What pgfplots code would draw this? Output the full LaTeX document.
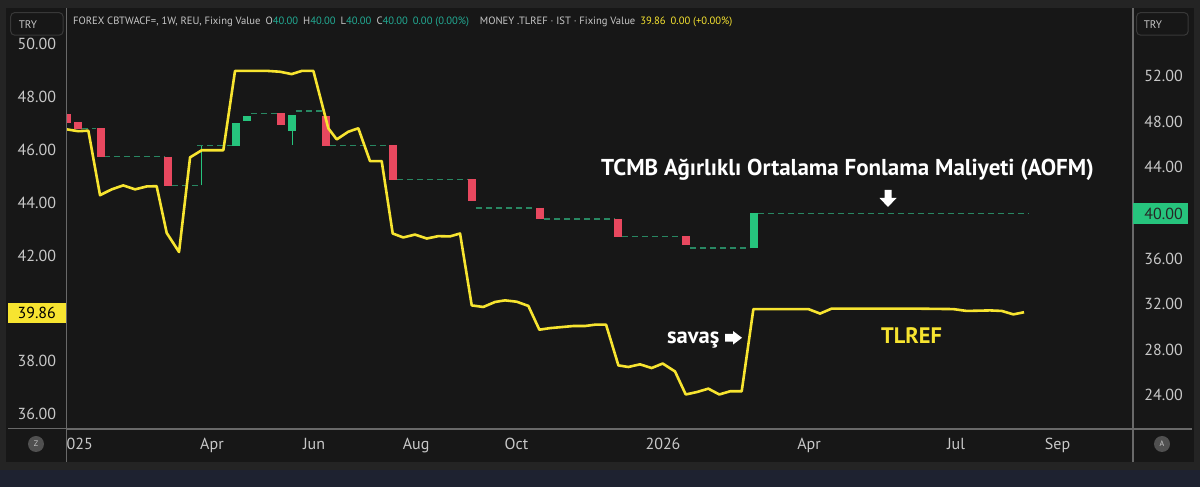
\documentclass[border=0pt]{standalone}
\usepackage{fontspec}
\setmainfont{PT Sans}
\usepackage{pgfplots}
\pgfplotsset{compat=1.18}
\definecolor{navy}{RGB}{30,34,48}
\definecolor{frame}{RGB}{36,36,36}
\definecolor{bgmain}{RGB}{23,23,23}
\definecolor{axline}{RGB}{105,105,105}
\definecolor{ticktxt}{RGB}{200,200,200}
\definecolor{tlref}{RGB}{247,228,48}
\definecolor{cred}{RGB}{232,72,95}
\definecolor{cgreen}{RGB}{38,196,125}
\definecolor{cdash}{RGB}{40,135,98}
\definecolor{hdrgreen}{RGB}{34,171,148}
\begin{document}
\begin{tikzpicture}[x=0.5bp,y=0.5bp]
\fill[navy] (0,0) rectangle (1200,487);
\fill[frame] (0,17) rectangle (1200,487);
\fill[bgmain] (6,25) rectangle (1194,479);
\draw[axline,line width=0.6bp] (1133,25) -- (1133,479);
\draw[axline,line width=0.6bp] (8,58) -- (1192,58);

% right scale: AOFM candles
\begin{axis}[at={(33.3bp,28.5bp)}, anchor=south west, scale only axis,
  width=533.2bp, height=211bp, xmin=0, xmax=657.3,
  ymin=20.965, ymax=57.98,
  axis line style={draw=none}, major tick length=0pt,
  xtick=\empty,
  ytick={24,28,32,36,44,48,52},
  yticklabels={24.00,28.00,32.00,36.00,44.00,48.00,52.00},
  yticklabel pos=right,
  yticklabel style={anchor=west, inner sep=0pt, text=ticktxt, font=\fontsize{8bp}{9bp}\selectfont},
  yticklabel shift=5.5bp]
\addplot[cdash, line width=0.6bp, dash pattern=on 3bp off 2bp, unbounded coords=jump] coordinates {
 (9.7,47.40) (18.2,47.40) (18.2,nan)
 (23.2,44.92) (60.2,44.92) (60.2,nan)
 (65.1,42.42) (83.3,42.42) (83.3,nan)
 (80.5,45.90) (101.8,45.90) (101.8,nan)
 (113.5,48.75) (129.9,48.75) (129.9,nan)
 (141.4,48.95) (157.2,48.95) (157.2,nan)
 (162.4,45.90) (198.9,45.90) (198.9,nan)
 (203.8,42.93) (247.6,42.93) (247.6,nan)
 (252.3,40.43) (289.1,40.43) (289.1,nan)
 (294.3,39.47) (337.6,39.47) (337.6,nan)
 (342.5,37.92) (379.5,37.92) (379.5,nan)
 (384.2,36.93) (420.8,36.93) (420.8,nan)
 (426.0,39.98) (592.6,39.98)
};
\addplot[cgreen, line width=0.6bp, unbounded coords=jump] coordinates {
 (83.3,42.42) (83.3,45.90) (83.3,nan)
 (139,47.22) (139,45.96)
};
\addplot[cred, line width=4bp, line cap=butt, unbounded coords=jump] coordinates {
 (0,48.66) (0,47.92) (0,nan)
 (7.2,47.98) (7.2,47.34) (7.2,nan)
 (20.9,47.43) (20.9,44.89) (20.9,nan)
 (62.7,44.94) (62.7,42.37) (62.7,nan)
 (132.3,48.75) (132.3,47.69) (132.3,nan)
 (159.8,48.51) (159.8,45.90) (159.8,nan)
 (201.4,45.96) (201.4,42.89) (201.4,nan)
 (250.0,42.96) (250.0,41.05) (250.0,nan)
 (291.7,40.46) (291.7,39.45) (291.7,nan)
 (340.0,39.47) (340.0,37.92) (340.0,nan)
 (381.9,37.98) (381.9,37.19)
};
\addplot[cgreen, line width=4bp, line cap=butt, unbounded coords=jump] coordinates {
 (104.1,45.90) (104.1,47.92) (104.1,nan)
 (111.0,48.07) (111.0,48.51) (111.0,nan)
 (139.0,47.22) (139.0,48.60) (139.0,nan)
 (423.4,36.90) (423.4,39.97)
};
\end{axis}

% left scale: TLREF
\begin{axis}[at={(33.3bp,28.5bp)}, anchor=south west, scale only axis,
  width=533.2bp, height=211bp, xmin=0, xmax=657.3,
  ymin=35.396, ymax=51.362,
  axis line style={draw=none}, major tick length=0pt,
  xtick={5.4,89.6,152.5,215.4,277.3,367.6,457.6,548.2,610.8},
  xticklabels={2025,Apr,Jun,Aug,Oct,2026,Apr,Jul,Sep},
  xticklabel style={anchor=base, inner sep=0pt, text=ticktxt, font=\fontsize{8bp}{9bp}\selectfont},
  xticklabel shift=9.6bp,
  ytick={36,38,42,44,46,48,50},
  yticklabels={36.00,38.00,42.00,44.00,46.00,48.00,50.00},
  yticklabel pos=left,
  yticklabel style={anchor=east, inner sep=0pt, text=ticktxt, font=\fontsize{8bp}{9bp}\selectfont},
  yticklabel shift=5.1bp]
\addplot[tlref, line width=1.3bp, line join=round] coordinates {
 (0.1,46.77) (7.2,46.70) (13.4,46.72) (20.6,44.28) (27.8,44.50) (34.9,44.65)
 (42.2,44.50) (49.4,44.61) (55.5,44.62) (61.7,42.85) (69.3,42.13) (76.1,45.71)
 (83.3,45.98) (96.6,45.98) (103.8,48.98) (113.0,48.98) (124.1,48.98) (131.5,48.95)
 (138.7,48.86) (144.9,48.98) (152.1,48.98) (161.3,46.81) (166.5,46.39) (173.6,46.68)
 (179.8,46.81) (187.0,45.57) (194.2,45.57) (201.0,42.83) (207.5,42.68) (214.7,42.79)
 (222.0,42.64) (229.1,42.73) (236.3,42.72) (242.5,42.83) (249.7,40.11) (256.8,40.05)
 (264.1,40.24) (270.2,40.30) (277.4,40.25) (284.6,40.09) (291.4,39.19) (297.9,39.25)
 (305.2,39.29) (312.3,39.33) (319.5,39.33) (325.7,39.38) (332.5,39.38) (340.1,37.84)
 (346.2,37.78) (353.4,37.88) (360.6,37.74) (367.4,37.91) (375.0,37.61) (381.6,36.74)
 (388.4,36.83) (395.5,36.96) (402.3,36.74) (408.9,36.86) (416.1,36.86) (423.3,39.97)
 (431.1,39.97) (439.1,39.97) (449.0,39.97) (457.2,39.97) (464.4,39.80) (471.6,39.99)
 (495.7,39.99) (520.0,39.99) (546.5,39.97) (554.8,39.90) (569.2,39.92) (576.4,39.90)
 (583.5,39.77) (590.1,39.85)
};
\end{axis}

% cover left of the time axis, then left axis line
\fill[bgmain] (6,25.3) rectangle (66.6,57.6);
\draw[axline,line width=0.6bp] (66.6,25) -- (66.6,479);
\fill[frame!80!white] (36,43) circle (8);
\node[text=ticktxt, font=\fontsize{4bp}{5bp}\selectfont] at (36,43) {Z};
\fill[frame!80!white] (1162,43) circle (8);
\node[text=ticktxt, font=\fontsize{4bp}{5bp}\selectfont] at (1162,43) {A};

% price labels
\fill[tlref] (8,164) rectangle (66.2,184);
\node[anchor=east, inner sep=0pt, text=black, font=\fontsize{8bp}{9bp}\selectfont] at (56.3,174) {39.86};
\fill[cgreen] (1133.4,263) rectangle (1188,284);
\node[anchor=west, inner sep=0pt, text=black!85, font=\fontsize{8bp}{9bp}\selectfont] at (1144,273.5) {40.00};

% TRY boxes
\draw[rounded corners=2bp, draw=white!22!black, fill=bgmain, line width=0.5bp] (10.7,451.8) rectangle (63.1,474.4);
\node[anchor=base west, inner sep=0pt, text=ticktxt, font=\fontsize{5.5bp}{6bp}\selectfont] at (18.4,458.3) {TRY};
\draw[rounded corners=2bp, draw=white!22!black, fill=bgmain, line width=0.5bp] (1136.6,451.8) rectangle (1188.2,474.4);
\node[anchor=base west, inner sep=0pt, text=ticktxt, font=\fontsize{5.5bp}{6bp}\selectfont] at (1143.4,458.3) {TRY};

% header
\node[anchor=base west, inner sep=0pt, text=ticktxt, font=\fontsize{5.3bp}{6bp}\selectfont] at (72.7,462)
 {FOREX CBTWACF=, 1W, REU, Fixing Value\hspace{2.5bp}O\textcolor{hdrgreen}{40.00}\hspace{2.5bp}H\textcolor{hdrgreen}{40.00}\hspace{2.5bp}L\textcolor{hdrgreen}{40.00}\hspace{2.5bp}C\textcolor{hdrgreen}{40.00}\hspace{2.5bp}\textcolor{hdrgreen}{0.00 (0.00\%)}};
\node[anchor=base west, inner sep=0pt, text=ticktxt, font=\fontsize{5.3bp}{6bp}\selectfont] at (479.5,462)
 {MONEY .TLREF · IST · Fixing Value\hspace{2.5bp}\textcolor{tlref}{39.86\hspace{2.5bp}0.00 (+0.00\%)}};

% annotations
\node[anchor=base, inner sep=0pt, text=white, font=\bfseries\fontsize{11.5bp}{13bp}\selectfont] at (847.5,311) {TCMB Ağırlıklı Ortalama Fonlama Maliyeti (AOFM)};
\fill[white] (884.5,297) -- (891.5,297) -- (891.5,289) -- (896.5,289) -- (888,280) -- (879.5,289) -- (884.5,289) -- cycle;
\node[anchor=base west, inner sep=0pt, text=white, font=\bfseries\fontsize{11.3bp}{13bp}\selectfont] at (666.7,143.7) {savaş};
\fill[white] (725,153) -- (733,153) -- (733,156) -- (742,149.2) -- (733,142.4) -- (733,145.4) -- (725,145.4) -- cycle;
\node[anchor=base west, inner sep=0pt, text=tlref, font=\bfseries\fontsize{11.2bp}{13bp}\selectfont] at (880.7,143.7) {TLREF};

\pgfresetboundingbox
\path (0,0) rectangle (1200,487);
\end{tikzpicture}
\end{document}
